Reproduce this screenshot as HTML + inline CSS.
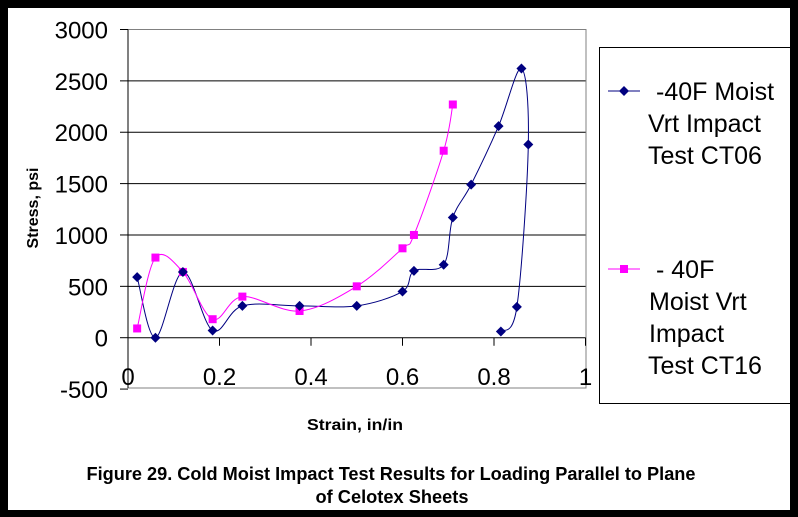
<!DOCTYPE html>
<html><head><meta charset="utf-8"><style>
html,body{margin:0;padding:0;background:#000}
svg{display:block}
text{font-family:"Liberation Sans",Arial,sans-serif}
</style></head><body>
<svg id="chart" width="798" height="517" viewBox="0 0 798 517">
<rect x="8" y="8" width="782" height="502" fill="#fff"/>
<g id="grid"></g>
<rect x="128" y="29.5" width="458" height="358.5" fill="none" stroke="#808080" stroke-width="1"/>
<g id="axes"></g>
<g id="series"></g>
<text x="38" y="208" font-size="16" font-weight="bold" text-anchor="middle" transform="rotate(-90 38 208)">Stress, psi</text>
<text x="355" y="430" font-size="16" font-weight="bold" text-anchor="middle" textLength="96" lengthAdjust="spacingAndGlyphs">Strain, in/in</text>
<text x="391" y="480" font-size="18" font-weight="bold" text-anchor="middle" textLength="609" lengthAdjust="spacingAndGlyphs">Figure 29. Cold Moist Impact Test Results for Loading Parallel to Plane</text>
<text x="392" y="503" font-size="18" font-weight="bold" text-anchor="middle" textLength="153" lengthAdjust="spacingAndGlyphs">of Celotex Sheets</text>
<g>
<rect x="599.5" y="47.5" width="200" height="356" fill="#fff" stroke="#000" stroke-width="1"/>
<g>
<line x1="608" y1="91" x2="640" y2="91" stroke="#000080" stroke-width="1"/>
<path d="M624 86 L629 91 L624 96 L619 91 Z" fill="#000080"/>
<text font-size="25" fill="#000"><tspan x="656" y="100">-40F Moist</tspan><tspan x="648" y="132">Vrt Impact</tspan><tspan x="648" y="164">Test CT06</tspan></text>
</g>
<g>
<line x1="608" y1="269" x2="640" y2="269" stroke="#ff00ff" stroke-width="1"/>
<rect x="620" y="265" width="8" height="8" fill="#ff00ff"/>
<text font-size="25" fill="#000"><tspan x="656" y="278">- 40F</tspan><tspan x="649" y="310">Moist Vrt</tspan><tspan x="649" y="342">Impact</tspan><tspan x="648" y="374">Test CT16</tspan></text>
</g>
</g>
<rect x="790" y="0" width="8" height="517" fill="#000"/>
</svg>
<script>
const yTicks=[3000,2500,2000,1500,1000,500,0,-500];
const xTicks=[0,0.2,0.4,0.6,0.8,1];
const xTickLabels=["0","0.2","0.4","0.6","0.8","1"];
const ct06X=[0.02,0.06,0.12,0.185,0.25,0.375,0.5,0.6,0.625,0.69,0.71,0.75,0.81,0.86,0.875,0.85,0.815];
const ct06Y=[590,0,640,70,310,310,310,450,650,710,1170,1490,2060,2620,1880,300,60];
const ct16X=[0.02,0.06,0.12,0.185,0.25,0.375,0.5,0.6,0.625,0.69,0.71];
const ct16Y=[90,780,640,180,400,260,500,870,1000,1820,2270];
const NS="http://www.w3.org/2000/svg";
const X=v=>128+v*457.5;
const Y=v=>337.7-v*(308.2/3000);
function mk(tag,attrs,parent){const e=document.createElementNS(NS,tag);for(const k in attrs)e.setAttribute(k,attrs[k]);parent.appendChild(e);return e;}
const grid=document.getElementById('grid'),axes=document.getElementById('axes'),series=document.getElementById('series');
yTicks.forEach(t=>{
  if(t<3000&&t>-500){const l=mk('line',{x1:128,x2:586,y1:Y(t),y2:Y(t),stroke:'#000','stroke-width':1},grid);
  
  }
  const tk=mk('line',{x1:120,x2:128,y1:Y(t),y2:Y(t),stroke:'#000'},axes);
  
  
  const tx=mk('text',{x:108,y:Y(t)+9,'font-size':24,'text-anchor':'end'},axes);tx.textContent=t;
  
  
});
const ya=mk('line',{x1:128,x2:128,y1:29.5,y2:388,stroke:'#000'},axes);


xTicks.forEach((t,i)=>{
  const tk=mk('line',{x1:X(t),x2:X(t),y1:Y(0),y2:Y(0)+8,stroke:'#000'},axes);
  
  
  const tx=mk('text',{x:X(t),y:385,'font-size':24,'text-anchor':'middle'},axes);tx.textContent=xTickLabels[i];
  
  
});
function spline(xs,ys){
  const p=xs.map((x,i)=>[X(x),Y(ys[i])]);let d='M'+p[0][0]+' '+p[0][1];
  for(let i=0;i<p.length-1;i++){const p0=p[Math.max(0,i-1)],p1=p[i],p2=p[i+1],p3=p[Math.min(p.length-1,i+2)];
    const c1=[p1[0]+(p2[0]-p0[0])/6,p1[1]+(p2[1]-p0[1])/6],c2=[p2[0]-(p3[0]-p1[0])/6,p2[1]-(p3[1]-p1[1])/6];
    d+=` C${c1[0]} ${c1[1]} ${c2[0]} ${c2[1]} ${p2[0]} ${p2[1]}`;}
  return d;
}
const l6=mk('path',{d:spline(ct06X,ct06Y),fill:'none',stroke:'#000080','stroke-width':1},series);


const l16=mk('path',{d:spline(ct16X,ct16Y),fill:'none',stroke:'#ff00ff','stroke-width':1},series);


ct16X.forEach((x,i)=>{const r=mk('rect',{x:X(x)-4,y:Y(ct16Y[i])-4,width:8,height:8,fill:'#ff00ff'},series);
  
  });
ct06X.forEach((x,i)=>{const cx=X(x),cy=Y(ct06Y[i]);const m=mk('path',{d:`M${cx} ${cy-5}L${cx+5} ${cy}L${cx} ${cy+5}L${cx-5} ${cy}Z`,fill:'#000080'},series);
  
  });
</script>
</body></html>
